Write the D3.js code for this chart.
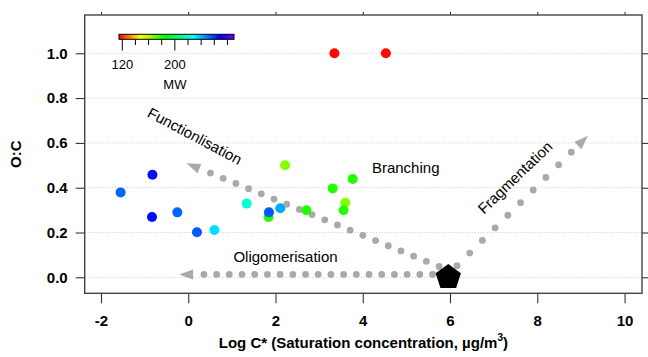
<!DOCTYPE html>
<html>

<head>
  <meta charset="UTF-8" />
  <title>O:C vs log C*</title>
  <script src="https://cdn.jsdelivr.net/npm/d3@7"></script>
</head>
<style>
  body {
    margin: 0;
    background: #fff;
  }

  text {
    font-family: "Liberation Sans", Arial, sans-serif;
  }
</style>

<body>
  <svg width="648" height="357"></svg>
  <script>
    // data
    var logC = [3.35, 4.53, -1.55, -0.82, -0.83, -0.25, 0.2, 0.6, 1.34, 2.22, 1.84, 1.85, 2.11, 2.71, 3.31, 3.77, 3.6, 3.56];
    var oc = [1.0, 1.0, 0.379, 0.458, 0.269, 0.29, 0.201, 0.211, 0.329, 0.5, 0.269, 0.29, 0.308, 0.299, 0.397, 0.439, 0.333, 0.299];
    var mw = [116, 116, 252, 266, 266, 252, 254, 233, 222, 165, 180, 254, 241, 180, 180, 180, 165, 180];

    var xTicks = [-2, 0, 2, 4, 6, 8, 10];
    var yTicks = [0, 0.2, 0.4, 0.6, 0.8, 1.0];
    var mwTicks = [120, 140, 160, 180, 200, 220, 240, 260, 280];
    var mwLabels = [120, 200];

    // rainbow colour table
    var mwStops = [115, 147, 185, 228, 268, 290];
    var mwColors = ["#ff0000", "#ffff00", "#00ff00", "#00ffff", "#0000ff", "#7000ff"];

    // parent molecule and the three process arrows
    var parent = [5.96, 0.0];
    var arrowNames = ["Oligomerisation", "Functionlisation", "Fragmentation"];
    var arrowStartX = [5.89, 6.04, 6.16];
    var arrowStartY = [0.013, 0.025, 0.052];
    var arrowTipX = [-0.21, -0.04, 9.16];
    var arrowTipY = [0.013, 0.509, 0.632];

    // labels: text, x, y, rotation
    var noteText = ["Functionlisation", "Branching", "Fragmentation", "Oligomerisation"];
    var noteX = [0.15, 4.21, 7.49, 2.23];
    var noteY = [0.631, 0.488, 0.446, 0.091];
    var noteRot = [28, 0, -44, 0];
    var noteAnchor = ["middle", "start", "middle", "middle"];

    var svg = d3.select("svg");
    var frame = { left: 84.7, right: 642, top: 15, bottom: 293.3 };

    var x = d3.scaleLinear().domain([-2.373, 10.40]).range([frame.left, frame.right]);
    var y = d3.scaleLinear().domain([-0.0714, 1.171]).range([frame.bottom, frame.top]);
    var color = d3.scaleLinear().domain(mwStops).range(mwColors);

    //grid
    svg.append("g")
      .selectAll("line")
      .data(yTicks)
      .enter()
      .append("line")
      .attr("x1", frame.left)
      .attr("x2", frame.right)
      .attr("y1", d => y(d))
      .attr("y2", d => y(d))
      .attr("stroke", "#c8c8c8")
      .attr("stroke-width", 1)
      .attr("stroke-dasharray", "1,2");

    //axes
    var axisFont = function (g) {
      g.select(".domain").remove();
      g.selectAll("text")
        .attr("font-size", 15)
        .attr("font-weight", "bold")
        .attr("fill", "#000")
        .style("font-family", "'Liberation Sans', Arial, sans-serif");
      g.selectAll("line").attr("stroke", "#222");
    };

    svg.append("g")
      .attr("transform", "translate(0," + frame.bottom + ")")
      .call(d3.axisBottom(x).tickValues(xTicks).tickSize(10).tickPadding(12).tickFormat(d => String(d)))
      .call(axisFont);

    svg.append("g")
      .attr("transform", "translate(0," + frame.top + ")")
      .call(d3.axisTop(x).tickValues(xTicks).tickSize(3).tickFormat(""))
      .call(axisFont);

    svg.append("g")
      .attr("transform", "translate(" + frame.left + ",0)")
      .call(d3.axisLeft(y).tickValues(yTicks).tickSize(9).tickPadding(8).tickFormat(d => d.toFixed(1)))
      .call(axisFont);

    svg.append("g")
      .attr("transform", "translate(" + frame.right + ",0)")
      .call(d3.axisRight(y).tickValues(yTicks).tickSize(9).tickFormat(""))
      .call(axisFont);

    svg.append("rect")
      .attr("x", frame.left)
      .attr("y", frame.top)
      .attr("width", frame.right - frame.left)
      .attr("height", frame.bottom - frame.top)
      .attr("fill", "none")
      .attr("stroke", "#444")
      .attr("stroke-width", 1.4);

    //axis titles
    var xTitle = svg.append("text")
      .attr("x", (frame.left + frame.right) / 2)
      .attr("y", 348)
      .attr("text-anchor", "middle")
      .attr("font-size", 15)
      .attr("font-weight", "bold");
    xTitle.append("tspan").text("Log C* (Saturation concentration, µg/m");
    xTitle.append("tspan").attr("font-size", 10).attr("dy", -7).text("3");
    xTitle.append("tspan").attr("dy", 7).text(")");

    svg.append("text")
      .attr("transform", "translate(21," + (frame.top + frame.bottom) / 2 + ") rotate(-90)")
      .attr("text-anchor", "middle")
      .attr("font-size", 15)
      .attr("font-weight", "bold")
      .text("O:C");

    //dotted arrows
    var arrows = arrowNames.map(function (name, i) {
      var x0 = x(arrowStartX[i]), y0 = y(arrowStartY[i]);
      var x1 = x(arrowTipX[i]), y1 = y(arrowTipY[i]);
      var dir = x1 > x0 ? 1 : -1;
      var slope = (y1 - y0) / (x1 - x0);
      var dots = [];
      for (var k = 0; ; k++) {
        var dx = x0 + dir * k * 12.7;
        var dy = y0 + slope * (dx - x0);
        if (Math.hypot(x1 - dx, y1 - dy) < 20) break;
        dots.push([dx, dy]);
      }
      return { name: name, dots: dots, tip: [x1, y1], angle: Math.atan2(y1 - y0, x1 - x0) };
    });

    var ag = svg.append("g").selectAll("g").data(arrows).enter().append("g");
    ag.selectAll("circle")
      .data(d => d.dots)
      .enter()
      .append("circle")
      .attr("cx", d => d[0])
      .attr("cy", d => d[1])
      .attr("r", 3.4)
      .attr("fill", "#a9a9a9");
    ag.append("path")
      .attr("d", "M0,0L-14,-5L-14,5Z")
      .attr("fill", "#a9a9a9")
      .attr("transform", d => "translate(" + d.tip[0] + "," + d.tip[1] + ") rotate(" + d.angle * 180 / Math.PI + ")");

    //points
    svg.append("g")
      .selectAll("circle")
      .data(logC)
      .enter()
      .append("circle")
      .attr("cx", d => x(d))
      .attr("cy", (d, i) => y(oc[i]))
      .attr("r", 5)
      .attr("fill", (d, i) => color(mw[i]));

    //parent pentagon
    var R = 13.3;
    var pent = d3.range(5).map(function (k) {
      var a = -Math.PI / 2 + k * 2 * Math.PI / 5;
      return [x(parent[0]) + R * Math.cos(a), y(parent[1]) + R * Math.sin(a)];
    });
    svg.append("path")
      .attr("d", d3.line()(pent) + "Z")
      .attr("fill", "#000");

    //annotations
    svg.append("g")
      .selectAll("text")
      .data(noteText)
      .enter()
      .append("text")
      .attr("transform", (d, i) => "translate(" + x(noteX[i]) + "," + y(noteY[i]) + ") rotate(" + noteRot[i] + ")")
      .attr("text-anchor", (d, i) => noteAnchor[i])
      .attr("dy", "0.35em")
      .attr("font-size", 15)
      .text(d => d);

    //colour bar
    var cb = d3.scaleLinear().domain([115, 290]).range([119, 234]);
    var grad = svg.append("defs").append("linearGradient").attr("id", "mwgrad");
    grad.selectAll("stop")
      .data(mwStops)
      .enter()
      .append("stop")
      .attr("offset", d => (d - 115) / (290 - 115))
      .attr("stop-color", (d, i) => mwColors[i]);
    svg.append("rect")
      .attr("x", cb(115))
      .attr("y", 34.3)
      .attr("width", cb(290) - cb(115))
      .attr("height", 5)
      .attr("fill", "url(#mwgrad)")
      .attr("stroke", "#000")
      .attr("stroke-width", 1);
    svg.append("g")
      .selectAll("line")
      .data(mwTicks)
      .enter()
      .append("line")
      .attr("x1", d => cb(d))
      .attr("x2", d => cb(d))
      .attr("y1", 39.3)
      .attr("y2", d => mwLabels.indexOf(d) >= 0 ? 50.5 : 45)
      .attr("stroke", "#000")
      .attr("stroke-width", 1);
    svg.append("g")
      .selectAll("text")
      .data(mwLabels)
      .enter()
      .append("text")
      .attr("x", d => cb(d))
      .attr("y", 68.5)
      .attr("text-anchor", "middle")
      .attr("font-size", 13)
      .text(d => d);
    svg.append("text")
      .attr("x", cb(200))
      .attr("y", 88.5)
      .attr("text-anchor", "middle")
      .attr("font-size", 13)
      .text("MW");
  </script>
</body>

</html>
